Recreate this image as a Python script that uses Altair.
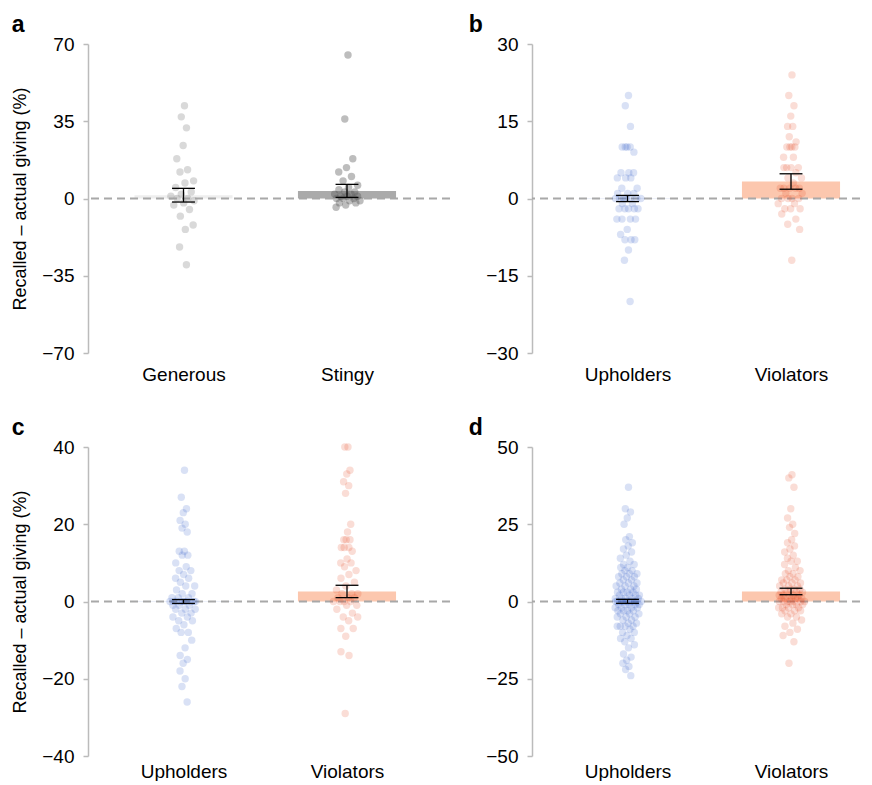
import altair as alt
import pandas as pd

FONT = "Liberation Sans"

# ---------------- data ----------------
# panel a
a_cats = ["Generous", "Stingy"]
a_generous = [42, 37, 32, 24, 18, 13, 12, 8, 7, 5, 3, 2, 1, 0, 0, -1, -2, -3, -5, -8, -12, -14, -22, -30]
a_stingy = [65, 36, 18, 14, 12, 10, 8, 6, 5, 4, 3, 3, 2, 2, 1, 1, 1, 0, 0, 0, -1, -1, -2, -2, -3, -4]
a_means = [1.5, 3.4]
a_lo = [-1.6, 0.5]
a_hi = [4.6, 6.4]

# panel b
b_cats = ["Upholders", "Violators"]
b_upholders = [20, 18, 14, 10, 10, 10, 10, 9, 5, 5, 5, 4, 4, 4, 2, 2, 1, 1, 1, 0, 0, 0, 0, 0, 0, 0,
               -1, -1, -2, -2, -2, -2, -2, -4, -4, -4, -4, -6, -7, -8, -8, -8, -10, -12, -20]
b_violators = [24, 20, 18, 16, 14, 14, 12, 11, 10, 10, 10, 10, 8, 8, 6, 6, 6, 6, 5, 4, 4, 3, 2, 2, 2, 2, 2,
               1, 1, 0, 0, 0, 0, -1, -1, -2, -2, -2, -3, -4, -5, -6, -12]
b_means = [0.1, 3.3]
b_lo = [-0.6, 1.8]
b_hi = [0.6, 4.8]

# panel c
c_cats = ["Upholders", "Violators"]
c_upholders = [34, 27, 24, 23, 21, 20, 19, 18, 13, 13, 12, 12, 10, 9, 8, 8, 7, 6, 6, 5, 4, 4, 3, 2, 2, 1, 1, 1,
               0, 0, 0, 0, 0, 0, 0, 0, 0, 0, -1, -1, -1, -2, -2, -2, -3, -3, -4, -4, -5, -5, -6, -7, -8, -8,
               -10, -12, -14, -15, -16, -18, -20, -22, -26]
c_violators = [40, 40, 34, 33, 31, 30, 28, 20, 18, 16, 16, 16, 14, 14, 14, 13, 11, 10, 10, 9, 8, 7, 6, 5, 4, 3,
               2, 2, 2, 1, 1, 1, 0, 0, 0, 0, -1, -1, -2, -3, -4, -4, -5, -7, -7, -9, -13, -14, -29]
c_means = [0.1, 2.6]
c_lo = [-0.5, 1.0]
c_hi = [0.5, 4.2]

# panel d
d_cats = ["Upholders", "Violators"]
d_upholders = [37, 30, 29, 27, 25, 21, 20, 19, 18, 17, 16, 15, 14, 13, 12, 12, 11, 11, 10, 10, 9, 9, 9, 8, 8, 8,
               7, 7, 6, 6, 6, 5, 5, 5, 4, 4, 4, 3, 3, 3, 3, 2, 2, 2, 2, 1, 1, 1, 1, 1,
               0, 0, 0, 0, 0, 0, 0, 0, 0, 0, 0, 0, -1, -1, -1, -1, -1, -2, -2, -2, -2, -3, -3, -3, -3,
               -4, -4, -4, -5, -5, -5, -6, -6, -7, -7, -8, -8, -8, -8, -9, -10, -10, -11, -12, -12, -13,
               -14, -15, -17, -18, -19, -20, -21, -22, -24]
d_violators = [41, 40, 37, 30, 27, 25, 24, 22, 20, 19, 18, 17, 16, 15, 14, 13, 13, 12, 11, 10, 10, 9, 9, 8, 8,
               7, 7, 7, 6, 6, 6, 5, 5, 5, 4, 4, 4, 4, 3, 3, 3, 3, 2, 2, 2, 2, 2, 1, 1, 1, 1, 1, 1,
               0, 0, 0, 0, 0, 0, 0, -1, -1, -1, -1, -2, -2, -2, -2, -3, -3, -3, -4, -4, -5, -5, -6, -7,
               -8, -9, -10, -11, -13, -20]
d_means = [0.05, 3.2]
d_lo = [-0.6, 2.2]
d_hi = [0.7, 4.3]

y_limits = {"a": 70, "b": 30, "c": 40, "d": 50}
Y_TITLE = "Recalled \u2013 actual giving (%)"

GRAY_PTS = ["#a0a0a0", "#5a5a5a"]
GRAY_BARS = ["#eeeeee", "#aaaaaa"]
COL_PTS = ["#2a5bc8", "#e5441a"]
COL_BARS = ["#dfe6f6", "#fcc7ae"]

STEP = 163.5
FIRST = 95.5 / STEP
PLOT_H = 309


def panel(letter, cats, groups, means, lo, hi, pt_colors, pt_opacity, bar_colors,
          width, ytitle, dx, xpad):
    ymax = y_limits[letter]
    rows = []
    for i, (c, vals) in enumerate(zip(cats, groups)):
        for v in vals:
            rows.append({"cat": c, "idx": i, "value": v})
    pts = pd.DataFrame(rows)
    summ = pd.DataFrame({"cat": cats, "idx": [0, 1], "mean": means, "lo": lo, "hi": hi})
    zero = pd.DataFrame({"y": [0]})

    xs = alt.Scale(domain=[-FIRST, -FIRST + width / STEP], nice=False, zero=False)
    ys = alt.Scale(domain=[-ymax, ymax], nice=False, zero=False)
    label_expr = f"datum.value == 0 ? '{cats[0]}' : '{cats[1]}'"
    xaxis = alt.Axis(values=[0, 1], labelExpr=label_expr, domain=False, ticks=False, tickSize=0,
                     grid=False, labelFontSize=19, labelPadding=xpad, title=None,
                     labelColor="black", labelFont=FONT)
    half = ymax // 2
    yaxis_kw = dict(values=[-ymax, -half, 0, half, ymax], grid=False, domainColor="#bbbbbb",
                    domainWidth=1.5, tickColor="#bbbbbb", tickWidth=1.5, tickSize=5,
                    labelFontSize=19, labelPadding=9, labelColor="black", labelFont=FONT)
    if ytitle:
        yaxis = alt.Axis(title=Y_TITLE, titleFontSize=18, titleFont=FONT, titleFontWeight="normal",
                         titleColor="black", titlePadding=12, **yaxis_kw)
    else:
        yaxis = alt.Axis(title=None, **yaxis_kw)

    bars = alt.Chart(summ).transform_calculate(
        x0="datum.idx - 0.3", x1="datum.idx + 0.3", z="0"
    ).mark_bar().encode(
        x=alt.X("x0:Q", scale=xs, axis=xaxis),
        x2="x1:Q",
        y=alt.Y("z:Q", scale=ys, axis=yaxis),
        y2="mean:Q",
        color=alt.Color("cat:N", scale=alt.Scale(domain=cats, range=bar_colors), legend=None),
    )

    zline = alt.Chart(zero).mark_rule(color="#a8a8a8", strokeDash=[8, 5], strokeWidth=1.8).encode(
        y=alt.Y("y:Q", scale=ys)
    )

    points = alt.Chart(pts).transform_window(
        rn="row_number()", groupby=["cat"]
    ).transform_calculate(
        jx=f"datum.idx + ((datum.rn * 0.618034) % 1 - 0.5) * 0.17 * max(0.3, 1 - abs(datum.value) / {ymax} * 1.6)"
    ).mark_circle(size=55, opacity=pt_opacity).encode(
        x=alt.X("jx:Q", scale=xs),
        y=alt.Y("value:Q", scale=ys),
        color=alt.Color("cat:N", scale=alt.Scale(domain=cats, range=pt_colors), legend=None),
    )

    err = alt.Chart(summ).mark_rule(color="black", strokeWidth=1.3).encode(
        x=alt.X("idx:Q", scale=xs), y=alt.Y("lo:Q", scale=ys), y2="hi:Q"
    )
    cap_base = alt.Chart(summ).transform_calculate(c0="datum.idx - 0.07", c1="datum.idx + 0.07")
    cap_hi = cap_base.mark_rule(color="black", strokeWidth=1.3).encode(
        x=alt.X("c0:Q", scale=xs), x2="c1:Q", y=alt.Y("hi:Q", scale=ys)
    )
    cap_lo = cap_base.mark_rule(color="black", strokeWidth=1.3).encode(
        x=alt.X("c0:Q", scale=xs), x2="c1:Q", y=alt.Y("lo:Q", scale=ys)
    )

    layer = alt.layer(bars, zline, points, err, cap_hi, cap_lo).resolve_scale(
        color="independent"
    ).properties(
        width=width, height=PLOT_H,
        title=alt.TitleParams(text=letter, anchor="start", fontSize=23, fontWeight="bold",
                              font=FONT, color="black", dx=dx, offset=-2),
    )
    return layer


W_LEFT = 362
W_RIGHT = 328

pa = panel("a", a_cats, [a_generous, a_stingy], a_means, a_lo, a_hi, GRAY_PTS, 0.4, GRAY_BARS,
           W_LEFT, True, 0, 12)
pb = panel("b", b_cats, [b_upholders, b_violators], b_means, b_lo, b_hi, COL_PTS, 0.18, COL_BARS,
           W_RIGHT, False, -17, 12)
pc = panel("c", c_cats, [c_upholders, c_violators], c_means, c_lo, c_hi, COL_PTS, 0.18, COL_BARS,
           W_LEFT, True, 0, 6)
pd_ = panel("d", d_cats, [d_upholders, d_violators], d_means, d_lo, d_hi, COL_PTS, 0.18, COL_BARS,
            W_RIGHT, False, -17, 6)

row1 = alt.hconcat(pa, pb, spacing=17)
row2 = alt.hconcat(pc, pd_, spacing=17)

chart = alt.vconcat(row1, row2, spacing=33).properties(
    padding={"left": 3, "top": 6, "right": 0, "bottom": 0},
    background="white",
).configure_view(stroke=None)

chart.save("out.html", embed_options={"renderer": "svg", "actions": False})
